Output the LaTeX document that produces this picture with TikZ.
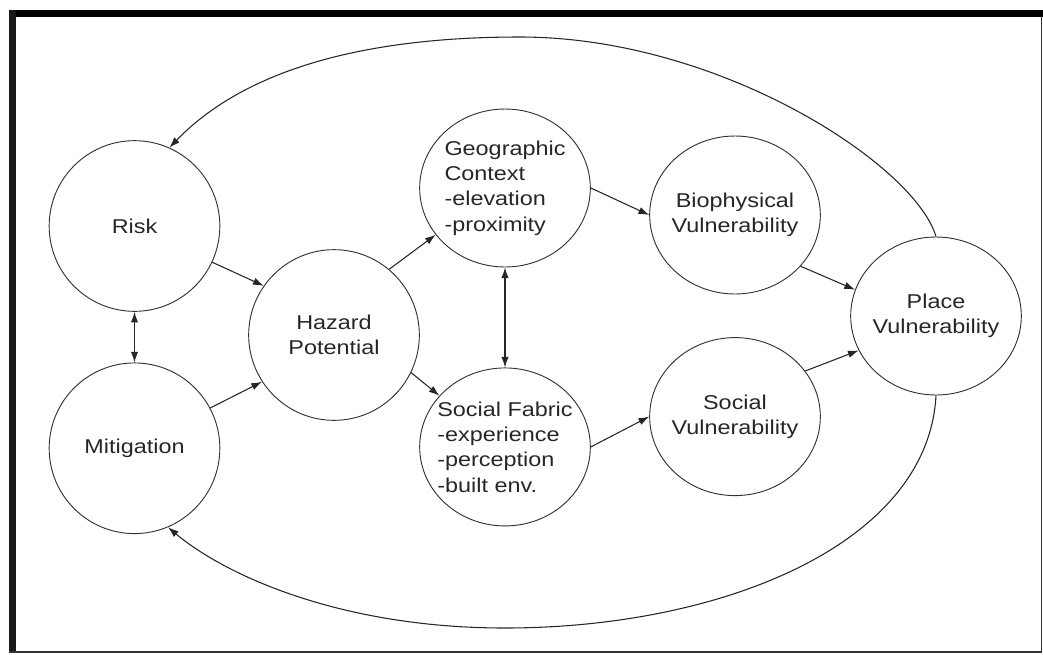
\documentclass[tikz,border=0pt]{standalone}
\usepackage{fontspec}
\setmainfont{Liberation Sans}[FakeStretch=1.17]
\usetikzlibrary{arrows.meta, positioning, shapes.geometric}

\begin{document}
\begin{tikzpicture}[x=0.75pt, y=-0.75pt, >={Latex[length=8pt, width=5.5pt]},
    every node/.style={font=\fontsize{15}{19}\selectfont, text=black!85, align=center, inner sep=-3pt},
    bubble/.style={draw=black!80, circle, minimum size=128pt, line width=0.7pt},
    oval/.style={draw=black!80, ellipse, minimum width=128pt, minimum height=118.5pt, line width=0.7pt},
    link/.style={->, draw=black!85, line width=0.8pt}]
    \useasboundingbox (0,0) rectangle (1043,654);
    \fill[black] (9,10) rectangle (1043,16.5);
    \fill[black!90] (9,10) rectangle (16,652);
    \draw[black!80, line width=1pt] (1041.5,16) -- (1041.5,651.5);
    \draw[black!80, line width=1.5pt] (9,651.5) -- (1042,651.5);

    \node[bubble] (risk) at (134.5,226) {Risk};
    \node[bubble, below=38pt of risk] (mitigation) {Mitigation};
    \node[bubble] (hazard) at (334,335) {Hazard\\Potential};
    \node[oval, align=left] (geo) at (505,188) {Geographic\\Context\\-elevation\\-proximity};
    \node[oval, align=left, inner xsep=-9pt, below=75pt of geo] (fabric) {Social Fabric\\-experience\\-perception\\-built env.};
    \node[oval] (biovul) at (735,215) {Biophysical\\Vulnerability};
    \node[oval, below=32pt of biovul] (socvul) {Social\\Vulnerability};
    \node[oval] (place) at (936,316) {Place\\Vulnerability};

    \draw[link] (risk.-25) -- (hazard.145);
    \draw[link] (mitigation.28) -- (hazard.213);
    \draw[link, <->] (risk) -- (mitigation);
    \draw[link] (hazard.50) -- (geo.214);
    \draw[link] (hazard.-26) -- (fabric.142);
    \draw[link, <->] (geo) -- (fabric);
    \draw[link] (geo.east) -- (biovul.west);
    \draw[link] (fabric.east) -- (socvul.west);
    \draw[link] (biovul.-38) -- (place.162);
    \draw[link] (socvul.33) -- (place.204);
    \draw[link] (place.north) .. controls (915,165) and (720,37) .. (520,37)
        .. controls (330,37) and (230,85) .. (risk.66);
    \draw[link] (place.south) .. controls (928,545) and (720,628) .. (505,628)
        .. controls (340,628) and (225,575) .. (mitigation.-67);
\end{tikzpicture}
\end{document}
